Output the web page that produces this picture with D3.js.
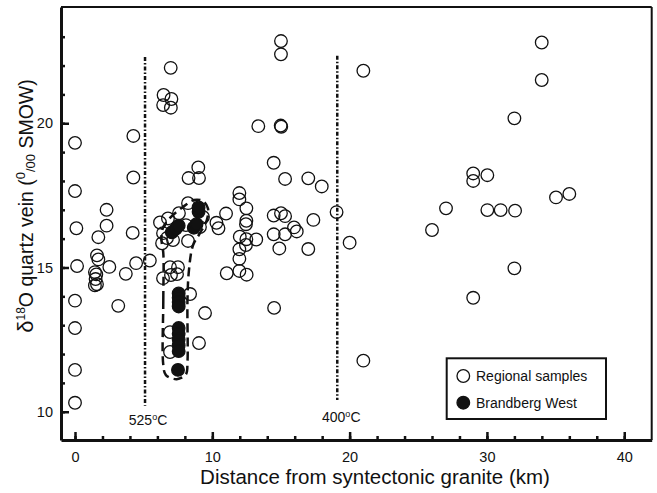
<!DOCTYPE html>
<html><head><meta charset="utf-8">
<script src="https://cdn.jsdelivr.net/npm/d3@7"></script>
<style>body{margin:0;background:#fff}svg{display:block}text{font-family:"Liberation Sans",Arial,sans-serif;fill:#111}</style>
</head><body><svg id="c" width="657" height="493"></svg>
<script>
// Regional samples (open circles)
const regionalX = [0,0,0.1,0.15,0,0,0,0,
 1.7,2.3,2.3,1.6,1.7,2.5,1.45,1.55,1.5,1.6,1.45,
 4.25,4.25,4.2,3.7,3.15,4.45,5.45,
 6.97,6.45,7.02,6.42,6.98,8.98,8.27,9.03,
 6.19,6.77,7.57,8.23,6.41,6.7,6.34,7.14,8.23,8.08,9.1,9.32,
 6.41,6.92,7.5,6.99,7.43,8.38,9.47,9.03,6.92,6.92,
 10.3,10.45,11.0,11.05,
 11.97,11.97,12.48,12.48,12.45,12.0,12.48,13.2,12.45,11.97,11.97,11.97,12.5,13.35,
 15.0,15.0,14.98,15.02,14.47,15.3,16.99,17.97,14.47,15.0,15.3,15.95,16.15,17.36,14.47,15.3,14.88,16.99,14.5,
 19.05,20.0,21.0,21.0,
 26.0,27.02,29.0,29.0,30.03,30.03,31.0,32.05,32.0,32.0,29.0,33.99,33.99,35.03,36.0];
const regionalY = [19.32,17.65,16.36,15.05,13.85,12.9,11.45,10.31,
 16.05,17.0,16.45,15.42,15.28,15.02,14.84,14.76,14.6,14.42,14.38,
 19.56,18.12,16.2,14.78,13.67,15.15,15.24,
 21.92,20.98,20.84,20.63,20.54,18.47,18.1,18.1,
 16.56,16.7,16.88,17.23,16.19,16.02,15.84,15.95,15.92,16.47,16.4,16.75,
 14.63,15.01,15.01,14.74,14.77,14.08,13.42,12.38,12.76,12.07,
 16.55,16.36,16.87,14.8,
 17.58,17.36,17.05,16.62,16.5,16.07,15.98,15.97,15.78,15.63,15.3,14.88,14.75,19.9,
 22.85,22.39,19.92,19.88,18.63,18.07,18.09,17.81,16.8,16.88,16.78,16.39,16.25,16.65,16.15,16.15,15.66,15.64,13.6,
 16.92,15.86,21.82,11.77,
 16.3,17.05,18.26,18.0,18.2,16.99,16.99,16.97,20.17,14.97,13.95,22.8,21.5,17.43,17.55];
// Brandberg West (filled circles)
const brandbergX = [7.05,7.35,7.55,8.65,8.85,9.0,9.0,
 7.55,7.55,7.55,7.55,7.55,7.55,7.55,7.55,7.55,7.5];
const brandbergY = [16.22,16.35,16.45,16.38,16.5,16.93,17.08,
 14.1,13.95,13.8,13.65,12.9,12.7,12.5,12.3,12.1,11.45];
// Dashed outline around Brandberg West
const outlineX = [6.43,6.43,6.43,6.62,7.41,8.08,8.19,8.19,8.3,8.6,9.1,9.6,9.68,9.32,8.67,7.87,6.92,6.4,6.3];
const outlineY = [15.5,13.87,11.62,11.27,11.13,11.3,11.72,13.87,14.91,15.78,16.19,16.64,17.05,17.3,17.34,17.1,16.72,16.37,15.95];
// Isotherm lines
const isoX = [5.1,19.1];
const isoTop = [22.3,22.34];
const isoBottom = [10.21,10.41];
const isoLabels = ["525","400"];
const xMajor = [0,10,20,30,40];
const xMinor = d3.range(0,41,2);
const yMajor = [10,15,20];
const yMinor = d3.range(10,24,1);

const svg = d3.select("#c");
const x = d3.scaleLinear().domain([-1.02,42.0]).range([61,651.7]);
const y = d3.scaleLinear().domain([9.02,24.03]).range([440,7]);

// frame
svg.append("line").attr("x1",61).attr("x2",651.7).attr("y1",7).attr("y2",7).attr("stroke","#111").attr("stroke-width",2);
svg.append("line").attr("x1",651.7).attr("x2",651.7).attr("y1",7).attr("y2",440).attr("stroke","#111").attr("stroke-width",2);

// axes
const gx = svg.append("g").attr("transform","translate(0,440)");
gx.call(d3.axisBottom(x).tickValues(xMinor).tickSizeInner(-4).tickSizeOuter(0).tickFormat(""));
gx.call(g=>g.selectAll(".tick line").attr("stroke-width",2.5).attr("stroke","#111"));
const gx2 = svg.append("g").attr("transform","translate(0,440)");
gx2.call(d3.axisBottom(x).tickValues(xMajor).tickSizeInner(-8).tickSizeOuter(0).tickPadding(12).tickFormat(d3.format("d")));
gx2.selectAll(".tick line").attr("stroke-width",2.5).attr("stroke","#111");
gx2.selectAll("text").attr("font-size",14.5).style("font-family","Liberation Sans, Arial, sans-serif").attr("fill","#111");
gx2.select(".domain").remove();
gx.select(".domain").attr("stroke-width",3).attr("stroke","#111");

const gy = svg.append("g").attr("transform","translate(61,0)");
gy.call(d3.axisLeft(y).tickValues(yMinor).tickSizeInner(-4).tickSizeOuter(0).tickFormat(""));
gy.selectAll(".tick line").attr("stroke-width",2.5).attr("stroke","#111");
const gy2 = svg.append("g").attr("transform","translate(61,0)");
gy2.call(d3.axisLeft(y).tickValues(yMajor).tickSizeInner(-8).tickSizeOuter(0).tickPadding(8).tickFormat(d3.format("d")));
gy2.selectAll(".tick line").attr("stroke-width",2.5).attr("stroke","#111");
gy2.selectAll("text").attr("font-size",14.5).style("font-family","Liberation Sans, Arial, sans-serif").attr("fill","#111");
gy2.select(".domain").remove();
gy.select(".domain").attr("stroke-width",3).attr("stroke","#111");

// isotherms
isoX.forEach((v,i)=>{
  svg.append("line").attr("x1",x(v)).attr("x2",x(v)).attr("y1",y(isoTop[i])).attr("y2",y(isoBottom[i]))
    .attr("stroke","#111").attr("stroke-width",2.5).attr("stroke-dasharray","4,2,1.5,2");
  const t = svg.append("text").attr("x",x(v)+3+(i===0?0:1)).attr("y",y(isoBottom[i])+(i===0?19:22)).attr("text-anchor","middle").attr("font-size",14);
  t.append("tspan").text(isoLabels[i]);
  t.append("tspan").attr("dy",-5).attr("font-size",9).text("o");
  t.append("tspan").attr("dy",5).text("C");
});

// points
svg.append("g").selectAll("circle").data(regionalX.map((d,i)=>[d,regionalY[i]])).join("circle")
  .attr("cx",d=>x(d[0])).attr("cy",d=>y(d[1])).attr("r",6.3)
  .attr("fill","none").attr("stroke","#111").attr("stroke-width",1.3);
svg.append("g").selectAll("circle").data(brandbergX.map((d,i)=>[d,brandbergY[i]])).join("circle")
  .attr("cx",d=>x(d[0])).attr("cy",d=>y(d[1])).attr("r",6.3)
  .attr("fill","#111").attr("stroke","#111").attr("stroke-width",1.3);

// outline
const line = d3.line().x(d=>x(d[0])).y(d=>y(d[1])).curve(d3.curveCatmullRomClosed.alpha(0.5));
svg.append("path").attr("d",line(outlineX.map((d,i)=>[d,outlineY[i]])))
  .attr("fill","none").attr("stroke","#111").attr("stroke-width",2.5).attr("stroke-dasharray","9,5");

// axis titles
svg.append("text").attr("x",375).attr("y",484).attr("text-anchor","middle").attr("font-size",20.5)
  .text("Distance from syntectonic granite (km)");
const yt = svg.append("text").attr("transform","translate(33,206) rotate(-90)").attr("text-anchor","middle").attr("font-size",19.5);
yt.append("tspan").attr("font-size",22).text("δ");
yt.append("tspan").attr("font-size",12).attr("dy",-8).text("18");
yt.append("tspan").attr("dy",8).text("O quartz vein (");
yt.append("tspan").attr("font-size",13).attr("dy",-8).text("0");
yt.append("tspan").attr("font-size",13).attr("dy",10).text("/00");
yt.append("tspan").attr("dy",-2).text(" SMOW)");

// legend
svg.append("rect").attr("x",446.7).attr("y",358.3).attr("width",159.3).attr("height",60.7)
  .attr("fill","#fff").attr("stroke","#111").attr("stroke-width",2);
const legItems = [["Regional samples","none"],["Brandberg West","#111"]];
legItems.forEach((d,i)=>{
  const cy = 376 + i*26.7;
  svg.append("circle").attr("cx",463.3).attr("cy",cy).attr("r",6.3).attr("fill",d[1]).attr("stroke","#111").attr("stroke-width",1.3);
  svg.append("text").attr("x",476).attr("y",cy+5).attr("font-size",14).text(d[0]);
});
</script></body></html>
